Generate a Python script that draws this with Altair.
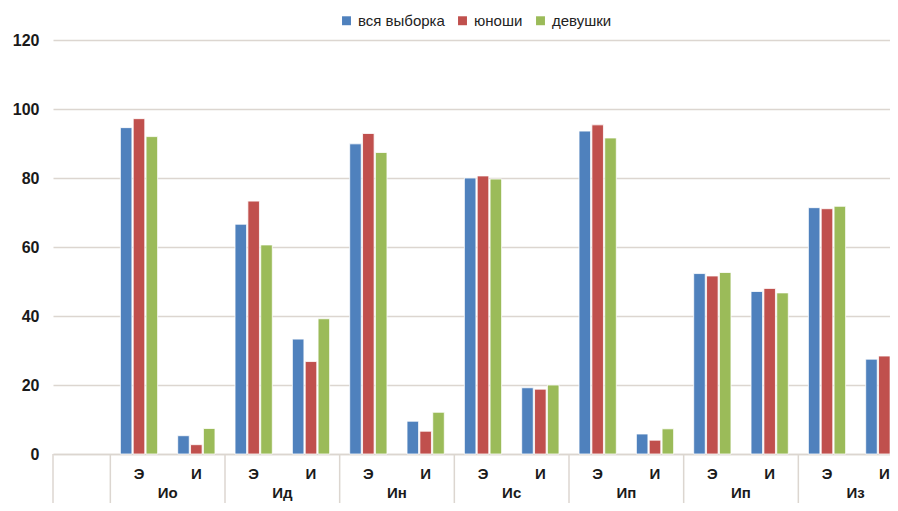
import altair as alt
import pandas as pd

groups = ["Ио", "Ид", "Ин", "Ис", "Ип", "Ип", "Из"]
subs = ["Э", "И"]
series = ["вся выборка", "юноши", "девушки"]
colors = ["#4F81BD", "#C0504D", "#9BBB59"]

vals_all = [94.6, 5.3, 66.6, 33.3, 89.9, 9.5, 80.0, 19.2, 93.6, 5.8, 52.3, 47.1, 71.4, 27.5]
vals_boys = [97.2, 2.7, 73.3, 26.8, 92.9, 6.6, 80.6, 18.8, 95.4, 4.0, 51.6, 48.0, 71.1, 28.4]
vals_girls = [92.0, 7.4, 60.6, 39.2, 87.4, 12.1, 79.7, 20.0, 91.6, 7.3, 52.6, 46.7, 71.8, 27.5]
y_ticks = [0, 20, 40, 60, 80, 100, 120]

rows = []
for gi, g in enumerate(groups):
    for si, s in enumerate(subs):
        key = f"{s}{gi}"
        idx = gi * 2 + si
        for name, vals in zip(series, [vals_all, vals_boys, vals_girls]):
            rows.append({"key": key, "series": name, "value": vals[idx]})
df = pd.DataFrame(rows)

cat_order = ["_"] + [f"{s}{gi}" for gi in range(len(groups)) for s in subs]
grp_df = pd.DataFrame({"key": [f"И{gi}" for gi in range(len(groups))], "label": groups})
sep_df = pd.DataFrame({"key": ["_"] + [f"Э{gi}" for gi in range(len(groups))]})

FONT = "Liberation Sans"
GRID = "#dcd6d0"

xscale = alt.Scale(domain=cat_order, range=[0, 860], paddingInner=0, paddingOuter=0)
xaxis = alt.Axis(
    labelExpr="datum.value == '_' ? '' : slice(datum.value, 0, 1)",
    labelFont=FONT, labelFontSize=15, labelFontWeight="bold", labelColor="#1a1a1a",
    labelPadding=12, ticks=False, domainColor=GRID, domainWidth=1.5, grid=False,
    labelAngle=0,
)

bars = alt.Chart(df).mark_bar(stroke="white", strokeWidth=0.8).encode(
    x=alt.X("key:N", scale=xscale, axis=xaxis, title=None, sort=cat_order),
    xOffset=alt.XOffset("series:N", sort=series,
                        scale=alt.Scale(paddingInner=0.1, paddingOuter=0.78)),
    y=alt.Y("value:Q", scale=alt.Scale(domain=[0, 120]), title=None,
            axis=alt.Axis(values=y_ticks, labelFont=FONT, labelFontSize=16,
                          labelFontWeight="bold", labelColor="#1a1a1a",
                          ticks=False, labelPadding=14, domain=False,
                          gridColor=GRID, gridWidth=1.5)),
    color=alt.Color("series:N", sort=series,
                    scale=alt.Scale(domain=series, range=colors),
                    legend=alt.Legend(orient="none", legendX=286, legendY=-27,
                                      direction="horizontal", title=None,
                                      symbolType="square", symbolSize=80,
                                      symbolStrokeWidth=0, labelFont=FONT,
                                      labelFontSize=15, labelColor="#222222",
                                      columnPadding=10)),
)

rules = alt.Chart(sep_df).mark_rule(color=GRID, strokeWidth=1.5).encode(
    x=alt.X("key:N", scale=xscale, axis=xaxis, title=None, sort=cat_order, bandPosition=0),
    y=alt.value(414),
    y2=alt.value(480),
)

texts = alt.Chart(grp_df).mark_text(font=FONT, fontSize=15, fontWeight="bold",
                                    baseline="middle", color="#1a1a1a").encode(
    x=alt.X("key:N", scale=xscale, axis=xaxis, title=None, sort=cat_order, bandPosition=0),
    y=alt.value(453),
    text="label:N",
)

chart = alt.layer(bars, rules, texts).properties(
    width=837, height=414,
    padding={"left": 45, "top": 32, "right": 0, "bottom": 49},
    autosize=alt.AutoSizeParams(type="none"),
).configure_view(stroke=None)

chart.save("out.html", embed_options={"renderer": "svg", "actions": False})
